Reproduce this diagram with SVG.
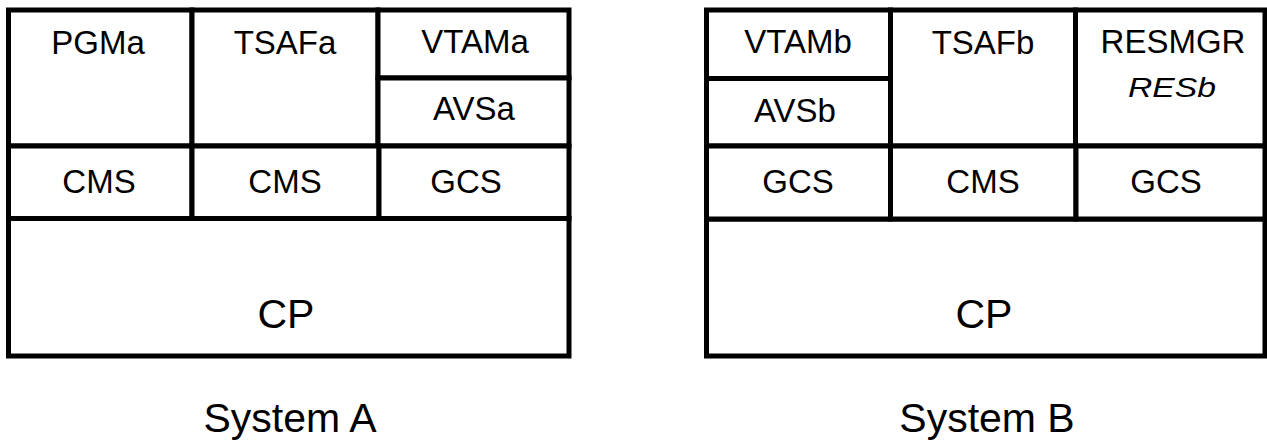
<svg xmlns="http://www.w3.org/2000/svg" width="1267" height="445" viewBox="0 0 1267 445">
<style>
rect{fill:#fff;stroke:#000;stroke-width:5}
text{font-family:"Liberation Sans",Arial,sans-serif;font-size:33px;fill:#000;text-anchor:middle}
.big{font-size:41px}
.it{font-style:italic;font-size:27px}
</style>
<rect x="0" y="0" width="1267" height="445" style="stroke:none"/>
<g id="systemA">
<g id="a-cp"><rect x="8.5" y="218.5" width="560.5" height="137.5"/><text class="big" x="286" y="328">CP</text></g>
<g id="a-pgma"><rect x="8.5" y="10" width="183.5" height="136"/><text x="98" y="54">PGMa</text></g>
<g id="a-tsafa"><rect x="192" y="10" width="186" height="136"/><text x="285" y="54">TSAFa</text></g>
<g id="a-vtama"><rect x="378" y="10" width="191" height="68"/><text x="475" y="53">VTAMa</text></g>
<g id="a-avsa"><rect x="378" y="78" width="191" height="68"/><text x="474" y="120">AVSa</text></g>
<g id="a-cms1"><rect x="8.5" y="146" width="183.5" height="72.5"/><text x="99" y="193">CMS</text></g>
<g id="a-cms2"><rect x="192" y="146" width="187" height="72.5"/><text x="285" y="193">CMS</text></g>
<g id="a-gcs"><rect x="379" y="146" width="190" height="72.5"/><text x="466" y="193">GCS</text></g>
<text id="label-a" class="big" x="290" y="432">System A</text>
</g>
<g id="systemB">
<g id="b-cp"><rect x="706.5" y="219" width="558.5" height="137"/><text class="big" x="984" y="328">CP</text></g>
<g id="b-vtamb"><rect x="706.5" y="10" width="184" height="68.5"/><text x="798" y="53">VTAMb</text></g>
<g id="b-avsb"><rect x="706.5" y="78.5" width="184" height="67.5"/><text x="795" y="122">AVSb</text></g>
<g id="b-tsafb"><rect x="890.5" y="10" width="185" height="136"/><text x="983" y="54">TSAFb</text></g>
<g id="b-resmgr"><rect x="1075.5" y="10" width="189.5" height="136"/><text x="1173" y="53">RESMGR</text><text class="it" x="1172" y="97" textLength="88" lengthAdjust="spacingAndGlyphs">RESb</text></g>
<g id="b-gcs1"><rect x="706.5" y="146" width="184" height="73"/><text x="798" y="193">GCS</text></g>
<g id="b-cms"><rect x="890.5" y="146" width="185.5" height="73"/><text x="983" y="193">CMS</text></g>
<g id="b-gcs2"><rect x="1076" y="146" width="189" height="73"/><text x="1166" y="193">GCS</text></g>
<text id="label-b" class="big" x="987" y="432">System B</text>
</g>
</svg>
